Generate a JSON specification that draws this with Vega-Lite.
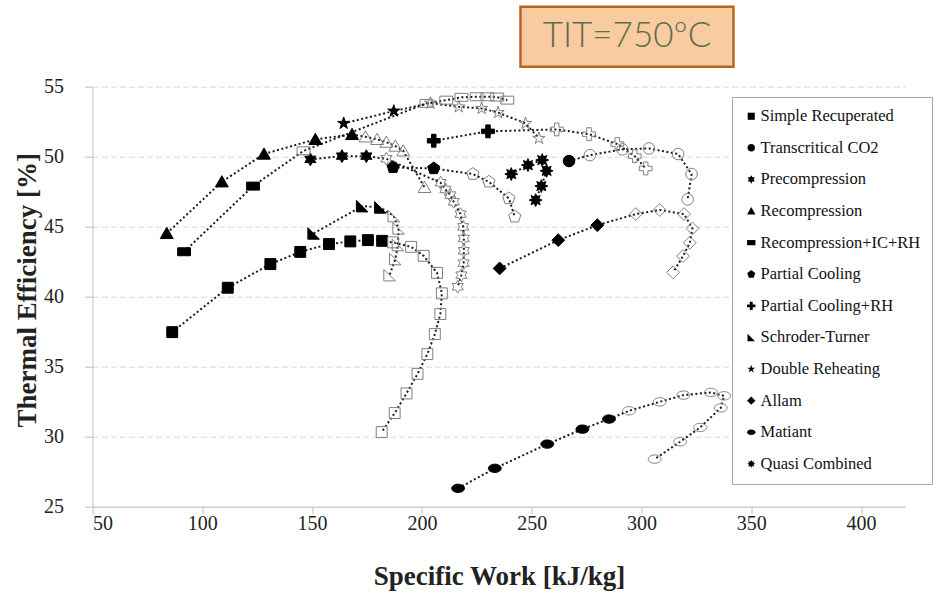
{
 "$schema": "https://vega.github.io/schema/vega-lite/v6.json",
 "width": 812.5,
 "height": 420,
 "autosize": {"type": "none"},
 "padding": {"left": 92.5, "top": 86.7, "right": 29, "bottom": 85.3},
 "background": "white",
 "config": {"view": {"stroke": null}, "font": "Liberation Serif"},
 "data": {"name": "pts"},
 "datasets": {"pts": [
  {"s":"Simple Recuperated","i":1,"x":86.3,"y":37.47,"f":"y"},
  {"s":"Simple Recuperated","i":2,"x":111.6,"y":40.64,"f":"y"},
  {"s":"Simple Recuperated","i":3,"x":131.0,"y":42.33,"f":"y"},
  {"s":"Simple Recuperated","i":4,"x":144.6,"y":43.2,"f":"y"},
  {"s":"Simple Recuperated","i":5,"x":157.7,"y":43.76,"f":"y"},
  {"s":"Simple Recuperated","i":6,"x":167.4,"y":43.95,"f":"y"},
  {"s":"Simple Recuperated","i":7,"x":175.4,"y":44.04,"f":"y"},
  {"s":"Simple Recuperated","i":8,"x":181.9,"y":43.99,"f":"y"},
  {"s":"Simple Recuperated","i":9,"x":186.9,"y":43.88,"f":"n"},
  {"s":"Simple Recuperated","i":10,"x":195.1,"y":43.56,"f":"n"},
  {"s":"Simple Recuperated","i":11,"x":200.8,"y":42.92,"f":"n"},
  {"s":"Simple Recuperated","i":12,"x":206.9,"y":41.7,"f":"n"},
  {"s":"Simple Recuperated","i":13,"x":209.1,"y":40.24,"f":"n"},
  {"s":"Simple Recuperated","i":14,"x":208.4,"y":38.76,"f":"n"},
  {"s":"Simple Recuperated","i":15,"x":205.9,"y":37.33,"f":"n"},
  {"s":"Simple Recuperated","i":16,"x":202.5,"y":35.9,"f":"n"},
  {"s":"Simple Recuperated","i":17,"x":198.0,"y":34.49,"f":"n"},
  {"s":"Simple Recuperated","i":18,"x":193.0,"y":33.09,"f":"n"},
  {"s":"Simple Recuperated","i":19,"x":187.6,"y":31.69,"f":"n"},
  {"s":"Simple Recuperated","i":20,"x":181.7,"y":30.33,"f":"n"},
  {"s":"Transcritical CO2","i":1,"x":267.0,"y":49.69,"f":"y"},
  {"s":"Transcritical CO2","i":2,"x":276.5,"y":50.11,"f":"n"},
  {"s":"Transcritical CO2","i":3,"x":291.3,"y":50.52,"f":"n"},
  {"s":"Transcritical CO2","i":4,"x":303.4,"y":50.59,"f":"n"},
  {"s":"Transcritical CO2","i":5,"x":316.7,"y":50.19,"f":"n"},
  {"s":"Transcritical CO2","i":6,"x":322.8,"y":48.76,"f":"n"},
  {"s":"Transcritical CO2","i":7,"x":321.0,"y":46.95,"f":"n"},
  {"s":"Precompression","i":1,"x":149.2,"y":49.81,"f":"y"},
  {"s":"Precompression","i":2,"x":163.6,"y":50.04,"f":"y"},
  {"s":"Precompression","i":3,"x":174.7,"y":50.04,"f":"y"},
  {"s":"Precompression","i":4,"x":183.8,"y":49.85,"f":"n"},
  {"s":"Precompression","i":5,"x":208.5,"y":48.14,"f":"n"},
  {"s":"Precompression","i":6,"x":210.7,"y":47.66,"f":"n"},
  {"s":"Precompression","i":7,"x":213.0,"y":47.26,"f":"n"},
  {"s":"Precompression","i":8,"x":214.5,"y":46.78,"f":"n"},
  {"s":"Precompression","i":9,"x":217.6,"y":45.9,"f":"n"},
  {"s":"Precompression","i":10,"x":218.8,"y":44.99,"f":"n"},
  {"s":"Precompression","i":11,"x":219.1,"y":44.16,"f":"n"},
  {"s":"Precompression","i":12,"x":219.1,"y":43.28,"f":"n"},
  {"s":"Precompression","i":13,"x":219.0,"y":42.4,"f":"n"},
  {"s":"Precompression","i":14,"x":218.0,"y":41.54,"f":"n"},
  {"s":"Precompression","i":15,"x":216.3,"y":40.71,"f":"n"},
  {"s":"Recompression","i":1,"x":83.8,"y":44.52,"f":"y"},
  {"s":"Recompression","i":2,"x":108.9,"y":48.21,"f":"y"},
  {"s":"Recompression","i":3,"x":128.1,"y":50.19,"f":"y"},
  {"s":"Recompression","i":4,"x":151.5,"y":51.24,"f":"y"},
  {"s":"Recompression","i":5,"x":168.2,"y":51.59,"f":"y"},
  {"s":"Recompression","i":6,"x":174.3,"y":51.42,"f":"n"},
  {"s":"Recompression","i":7,"x":179.6,"y":51.24,"f":"n"},
  {"s":"Recompression","i":8,"x":183.8,"y":51.04,"f":"n"},
  {"s":"Recompression","i":9,"x":187.9,"y":50.76,"f":"n"},
  {"s":"Recompression","i":10,"x":191.5,"y":50.42,"f":"n"},
  {"s":"Recompression","i":11,"x":201.2,"y":47.81,"f":"n"},
  {"s":"Recompression+IC+RH","i":1,"x":91.7,"y":43.21,"f":"y"},
  {"s":"Recompression+IC+RH","i":2,"x":123.1,"y":47.9,"f":"y"},
  {"s":"Recompression+IC+RH","i":3,"x":146.1,"y":50.42,"f":"n"},
  {"s":"Recompression+IC+RH","i":4,"x":202.1,"y":53.81,"f":"n"},
  {"s":"Recompression+IC+RH","i":5,"x":211.1,"y":54.04,"f":"n"},
  {"s":"Recompression+IC+RH","i":6,"x":218.0,"y":54.24,"f":"n"},
  {"s":"Recompression+IC+RH","i":7,"x":224.9,"y":54.28,"f":"n"},
  {"s":"Recompression+IC+RH","i":8,"x":229.8,"y":54.28,"f":"n"},
  {"s":"Recompression+IC+RH","i":9,"x":234.3,"y":54.26,"f":"n"},
  {"s":"Recompression+IC+RH","i":10,"x":238.9,"y":54.04,"f":"n"},
  {"s":"Partial Cooling","i":1,"x":186.9,"y":49.24,"f":"y"},
  {"s":"Partial Cooling","i":2,"x":205.4,"y":49.16,"f":"y"},
  {"s":"Partial Cooling","i":3,"x":223.2,"y":48.76,"f":"n"},
  {"s":"Partial Cooling","i":4,"x":230.5,"y":48.21,"f":"n"},
  {"s":"Partial Cooling","i":5,"x":239.6,"y":47.02,"f":"n"},
  {"s":"Partial Cooling","i":6,"x":242.3,"y":45.71,"f":"n"},
  {"s":"Partial Cooling+RH","i":1,"x":205.4,"y":51.14,"f":"y"},
  {"s":"Partial Cooling+RH","i":2,"x":230.1,"y":51.81,"f":"y"},
  {"s":"Partial Cooling+RH","i":3,"x":261.4,"y":51.95,"f":"n"},
  {"s":"Partial Cooling+RH","i":4,"x":276.1,"y":51.61,"f":"n"},
  {"s":"Partial Cooling+RH","i":5,"x":289.0,"y":50.9,"f":"n"},
  {"s":"Partial Cooling+RH","i":6,"x":296.9,"y":50.04,"f":"n"},
  {"s":"Partial Cooling+RH","i":7,"x":301.9,"y":49.16,"f":"n"},
  {"s":"Schroder-Turner","i":1,"x":150.7,"y":44.52,"f":"y"},
  {"s":"Schroder-Turner","i":2,"x":172.8,"y":46.47,"f":"y"},
  {"s":"Schroder-Turner","i":3,"x":181.1,"y":46.38,"f":"y"},
  {"s":"Schroder-Turner","i":4,"x":187.2,"y":45.76,"f":"n"},
  {"s":"Schroder-Turner","i":5,"x":189.4,"y":44.88,"f":"n"},
  {"s":"Schroder-Turner","i":6,"x":189.1,"y":43.69,"f":"n"},
  {"s":"Schroder-Turner","i":7,"x":187.9,"y":42.69,"f":"n"},
  {"s":"Schroder-Turner","i":8,"x":185.3,"y":41.54,"f":"n"},
  {"s":"Double Reheating","i":1,"x":164.4,"y":52.38,"f":"y"},
  {"s":"Double Reheating","i":2,"x":187.2,"y":53.26,"f":"y"},
  {"s":"Double Reheating","i":3,"x":203.9,"y":53.83,"f":"n"},
  {"s":"Double Reheating","i":4,"x":216.8,"y":53.56,"f":"n"},
  {"s":"Double Reheating","i":5,"x":227.2,"y":53.45,"f":"n"},
  {"s":"Double Reheating","i":6,"x":234.7,"y":53.15,"f":"n"},
  {"s":"Double Reheating","i":7,"x":247.2,"y":52.38,"f":"n"},
  {"s":"Double Reheating","i":8,"x":253.3,"y":51.31,"f":"n"},
  {"s":"Allam","i":1,"x":235.4,"y":42.02,"f":"y"},
  {"s":"Allam","i":2,"x":262.1,"y":44.04,"f":"y"},
  {"s":"Allam","i":3,"x":279.9,"y":45.11,"f":"y"},
  {"s":"Allam","i":4,"x":297.4,"y":45.9,"f":"n"},
  {"s":"Allam","i":5,"x":308.3,"y":46.19,"f":"n"},
  {"s":"Allam","i":6,"x":319.4,"y":45.9,"f":"n"},
  {"s":"Allam","i":7,"x":323.2,"y":44.88,"f":"n"},
  {"s":"Allam","i":8,"x":322.0,"y":43.85,"f":"n"},
  {"s":"Allam","i":9,"x":318.9,"y":42.9,"f":"n"},
  {"s":"Allam","i":10,"x":314.4,"y":41.74,"f":"n"},
  {"s":"Matiant","i":1,"x":216.5,"y":26.31,"f":"y"},
  {"s":"Matiant","i":2,"x":233.2,"y":27.74,"f":"y"},
  {"s":"Matiant","i":3,"x":257.1,"y":29.47,"f":"y"},
  {"s":"Matiant","i":4,"x":273.1,"y":30.54,"f":"y"},
  {"s":"Matiant","i":5,"x":285.2,"y":31.26,"f":"y"},
  {"s":"Matiant","i":6,"x":294.3,"y":31.85,"f":"n"},
  {"s":"Matiant","i":7,"x":308.3,"y":32.49,"f":"n"},
  {"s":"Matiant","i":8,"x":319.1,"y":32.97,"f":"n"},
  {"s":"Matiant","i":9,"x":331.6,"y":33.16,"f":"n"},
  {"s":"Matiant","i":10,"x":337.6,"y":32.92,"f":"n"},
  {"s":"Matiant","i":11,"x":336.1,"y":32.06,"f":"n"},
  {"s":"Matiant","i":12,"x":326.7,"y":30.66,"f":"n"},
  {"s":"Matiant","i":13,"x":317.6,"y":29.64,"f":"n"},
  {"s":"Matiant","i":14,"x":306.0,"y":28.4,"f":"n"},
  {"s":"Quasi Combined","i":1,"x":240.7,"y":48.76,"f":"y"},
  {"s":"Quasi Combined","i":2,"x":248.3,"y":49.4,"f":"y"},
  {"s":"Quasi Combined","i":3,"x":254.8,"y":49.76,"f":"y"},
  {"s":"Quasi Combined","i":4,"x":256.8,"y":48.99,"f":"y"},
  {"s":"Quasi Combined","i":5,"x":254.4,"y":47.9,"f":"y"},
  {"s":"Quasi Combined","i":6,"x":251.8,"y":46.9,"f":"y"}
 ]},
 "layer": [
  {
   "mark": {"type": "line", "strokeDash": [2, 2.5], "strokeWidth": 2, "color": "#1a1a1a"},
   "encoding": {
    "x": {"field": "x", "type": "quantitative", "title": "Specific Work [kJ/kg]",
      "scale": {"domain": [50, 420], "nice": false, "zero": false},
      "axis": {"values": [50,100,150,200,250,300,350,400], "grid": false, "domainColor": "#bfbfbf", "tickColor": "#bfbfbf", "tickSize": 7,
        "labelFont": "Liberation Serif", "labelFontSize": 20, "labelColor": "#222222", "labelPadding": 0,
        "titleFont": "Liberation Serif", "titleFontSize": 27, "titleFontWeight": "bold", "titleColor": "#222222",
        "titleX": 406.5, "titleY": 70, "titleBaseline": "middle", "titleAlign": "center"}},
    "y": {"field": "y", "type": "quantitative", "title": "Thermal Efficiency [%]",
      "scale": {"domain": [25, 55], "nice": false, "zero": false},
      "axis": {"values": [25,30,35,40,45,50,55], "grid": true, "gridColor": "#d9d9d9", "gridDash": [6, 3], "gridWidth": 1,
        "domainColor": "#bfbfbf", "tickColor": "#bfbfbf", "tickSize": 8,
        "labelFont": "Liberation Serif", "labelFontSize": 20, "labelColor": "#222222", "labelPadding": 21,
        "titleFont": "Liberation Serif", "titleFontSize": 27, "titleFontWeight": "bold", "titleColor": "#222222",
        "titleX": -65, "titleY": 203, "titleAngle": -90, "titleAlign": "center", "titleBaseline": "middle"}},
    "detail": {"field": "s", "type": "nominal"},
    "order": {"field": "i", "type": "quantitative"}
   }
  },
  {
   "mark": {"type": "point", "filled": true, "size": 165, "strokeWidth": 1, "opacity": 1},
   "encoding": {
    "x": {"field": "x", "type": "quantitative", "title": "Specific Work [kJ/kg]"},
    "y": {"field": "y", "type": "quantitative", "title": "Thermal Efficiency [%]"},
    "shape": {"field": "s", "type": "nominal",
      "scale": {
       "domain": ["Simple Recuperated","Transcritical CO2","Precompression","Recompression","Recompression+IC+RH","Partial Cooling","Partial Cooling+RH","Schroder-Turner","Double Reheating","Allam","Matiant","Quasi Combined"],
       "range": [
        "M-0.85,-0.85H0.85V0.85H-0.85Z",
        "M0.9,0A0.9,0.9,0,1,1,-0.9,0A0.9,0.9,0,1,1,0.9,0Z",
        "M0,-1L0.289,-0.5L0.866,-0.5L0.577,0L0.866,0.5L0.289,0.5L0,1L-0.289,0.5L-0.866,0.5L-0.577,0L-0.866,-0.5L-0.289,-0.5Z",
        "M0,-0.95L1,0.8L-1,0.8Z",
        "M-1,-0.62H1V0.62H-1Z",
        "M0,-1L0.951,-0.309L0.588,0.809L-0.588,0.809L-0.951,-0.309Z",
        "M-0.35,-1H0.35V-0.35H1V0.35H0.35V1H-0.35V0.35H-1V-0.35H-0.35Z",
        "M-0.9,-0.9L0.9,0.9L-0.9,0.9Z",
        "M0,-1L0.225,-0.309L0.951,-0.309L0.363,0.118L0.588,0.809L0,0.382L-0.588,0.809L-0.363,0.118L-0.951,-0.309L-0.225,-0.309Z",
        "M0,-1L1,0L0,1L-1,0Z",
        "M1,0A1,0.65,0,1,1,-1,0A1,0.65,0,1,1,1,0Z",
        "M0,-1L0.21,-0.508L0.707,-0.707L0.508,-0.21L1,0L0.508,0.21L0.707,0.707L0.21,0.508L0,1L-0.21,0.508L-0.707,0.707L-0.508,0.21L-1,0L-0.508,-0.21L-0.707,-0.707L-0.21,-0.508Z"
       ]},
      "legend": {"title": null, "orient": "none", "legendX": 639.5, "legendY": 10.3, "direction": "vertical",
        "padding": 11, "strokeColor": "#a6a6a6", "fillColor": "white",
        "labelFont": "Liberation Serif", "labelFontSize": 16.5, "labelColor": "#111111", "labelLimit": 300,
        "symbolSize": 70, "rowPadding": 14.6, "labelOffset": 1, "symbolFillColor": "black", "symbolStrokeColor": "black", "symbolStrokeWidth": 0,
        "encode": {"symbols": {
          "fill": {"value": "black"},
          "stroke": {"value": "black"},
          "shape": {"value": {"expr": "scale('shape', datum.value) + ' M-2.3,-0.2h0.4v0.4h-0.4z M-1.6,-0.2h0.4v0.4h-0.4z M1.2,-0.2h0.4v0.4h-0.4z M1.9,-0.2h0.4v0.4h-0.4z'"}}
        }}}
    },
    "fill": {"field": "f", "type": "nominal", "scale": {"domain": ["y", "n"], "range": ["black", "transparent"]}, "legend": null},
    "stroke": {"field": "f", "type": "nominal", "scale": {"domain": ["y", "n"], "range": ["black", "#7f7f7f"]}, "legend": null}
   }
  },
  {
   "data": {"values": [{"t": "TIT=750ºC"}]},
   "mark": {"type": "rect", "fill": "#F8CBA0", "stroke": "#B8661F", "strokeWidth": 2.5},
   "encoding": {
    "x": {"datum": 244.9, "type": "quantitative", "title": "Specific Work [kJ/kg]"},
    "x2": {"datum": 341.9},
    "y": {"datum": 60.71, "type": "quantitative", "title": "Thermal Efficiency [%]"},
    "y2": {"datum": 56.43}
   }
  },
  {
   "data": {"values": [{"t": "TIT=750ºC"}]},
   "mark": {"type": "text", "font": "Lato", "fontSize": 35, "fontWeight": 300, "color": "#5E6B4C", "baseline": "alphabetic", "align": "center"},
   "encoding": {
    "x": {"datum": 293.4, "type": "quantitative", "title": "Specific Work [kJ/kg]"},
    "y": {"datum": 57.84, "type": "quantitative", "title": "Thermal Efficiency [%]"},
    "text": {"field": "t", "type": "nominal"}
   }
  }
 ]
}
